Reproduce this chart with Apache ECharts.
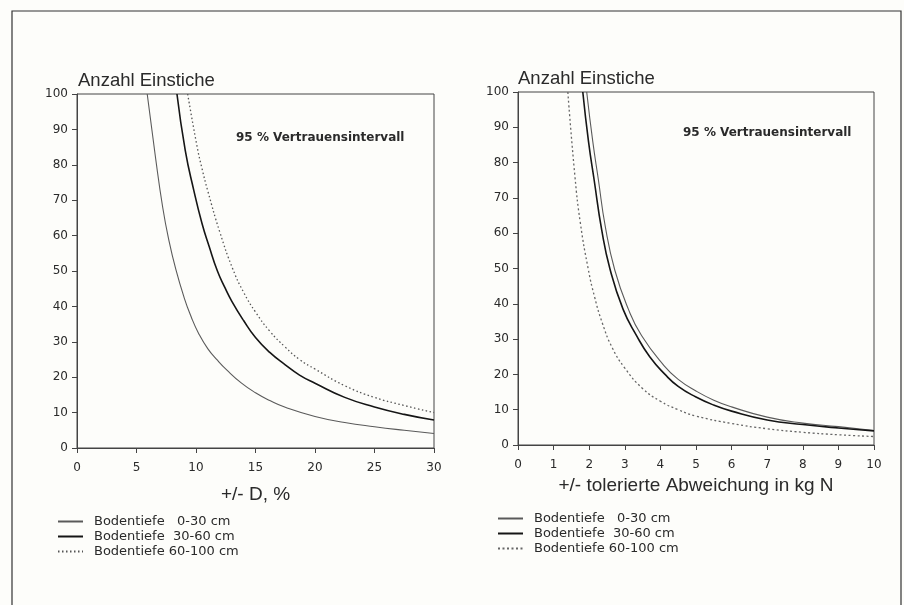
<!DOCTYPE html>
<html>
<head>
<meta charset="utf-8">
<script src="https://cdn.jsdelivr.net/npm/echarts@6/dist/echarts.min.js"></script>
<style>
  html, body { margin: 0; padding: 0; background: #fdfdfa; }
  #chart { width: 904px; height: 605px; }
</style>
</head>
<body>
<div id="chart"></div>
<script>
// Werte (x, Anzahl Einstiche)
// links: +/- D, %
var leftTiefe0_30 = [[5.9,100],[6.6,82],[7.2,68],[7.7,59],[8.3,50.5],[9,42.5],[9.6,37],[10.2,32.5],[11,28],[11.8,24.8],[12.6,22],[13.8,18.4],[15,15.6],[16.2,13.4],[17.5,11.5],[20,8.9],[22.5,7.2],[25,6],[27.5,5],[30,4.1]];
var leftTiefe30_60 = [[8.4,100],[9.1,84],[9.8,73],[10.5,63.5],[11.1,57],[11.8,50],[12.4,45.5],[13,41.5],[14,36],[15,31.2],[16.2,27],[17.5,23.5],[18.7,20.6],[20,18.3],[22.5,14.3],[25,11.6],[27.5,9.5],[30,7.9]];
var leftTiefe60_100 = [[9.3,100],[10.1,85],[10.5,79],[11,72.5],[12,61],[13.1,50.5],[14,44],[15,38.4],[16.2,33],[17.5,28.5],[18.7,25],[20,22.3],[22.5,17.6],[25,14.3],[27.5,12],[30,10]];
// rechts: +/- tolerierte Abweichung in kg N
var rightTiefe0_30 = [[1.93,100],[2.1,86],[2.26,75],[2.45,62],[2.72,49.5],[3.1,38.5],[3.47,31],[4.1,22.5],[4.5,18.6],[5,15.3],[5.5,12.7],[6,10.8],[7,7.9],[8,6.2],[9,5.2],[10,4.1]];
var rightTiefe30_60 = [[1.82,100],[1.98,86],[2.14,75],[2.35,61],[2.58,50],[2.95,38.5],[3.33,31],[3.7,25],[4.13,20],[4.5,16.6],[5,13.6],[5.5,11.3],[6,9.6],[7,7.1],[8,5.8],[9,4.8],[10,4]];
var rightTiefe60_100 = [[1.4,100],[1.6,76],[1.75,63],[1.97,50],[2.15,42],[2.37,34.5],[2.65,27.5],[3,21.8],[3.5,16],[4,12.4],[4.5,10],[5,8.2],[6,6.1],[7,4.6],[8,3.6],[9,2.9],[10,2.4]];

var legendNames = ['Bodentiefe   0-30 cm', 'Bodentiefe  30-60 cm', 'Bodentiefe 60-100 cm'];
var rightNames = ['rechts 0-30', 'rechts 30-60', 'rechts 60-100'];
var yTitle = 'Anzahl Einstiche';
var noteText = '95 % Vertrauensintervall';

var chart = echarts.init(document.getElementById('chart'));

var font = 'Liberation Sans, Arial, sans-serif';
var wide = 'DejaVu Sans, sans-serif';
var ink = '#2a2a2a';

function axisY(gridIndex) {
    return {
        type: 'value', gridIndex: gridIndex, min: 0, max: 100, interval: 10,
        axisLine: { show: true, lineStyle: { color: '#444', width: 1 } },
        axisTick: { show: true, length: 5, lineStyle: { color: '#444' } },
        axisLabel: { color: ink, fontSize: 12, fontFamily: wide, margin: 9 },
        splitLine: { show: false }
    };
}

function axisX(gridIndex, max, interval, name, gap) {
    return {
        type: 'value', gridIndex: gridIndex, min: 0, max: max, interval: interval,
        name: name, nameLocation: 'middle', nameGap: gap,
        nameTextStyle: { color: ink, fontSize: 19, fontFamily: font },
        axisLine: { show: true, lineStyle: { color: '#444', width: 1 } },
        axisTick: { show: true, length: 5, lineStyle: { color: '#444' } },
        axisLabel: { color: ink, fontSize: 12, fontFamily: wide, margin: 14 },
        splitLine: { show: false }
    };
}

function line(name, data, gi, color, width, type) {
    return {
        name: name, type: 'line', xAxisIndex: gi, yAxisIndex: gi,
        data: data, smooth: 0.5,
        showSymbol: false, symbol: 'none', silent: true,
        lineStyle: { color: color, width: width, type: type },
        itemStyle: { color: color }
    };
}

function legendAt(left, top, names) {
    return {
        orient: 'vertical', left: left, top: top, padding: 0,
        data: names, itemWidth: 25, itemHeight: 10, itemGap: 2,
        selectedMode: false,
        itemStyle: { opacity: 0 },
        formatter: function (n) {
            var i = names.indexOf(n);
            return legendNames[i];
        },
        textStyle: { color: ink, fontSize: 13, fontFamily: wide, padding: [0, 0, 0, 6] }
    };
}

var option = {
    backgroundColor: '#fdfdfa',
    animation: false,
    grid: [
        { left: 77, top: 94, width: 357, height: 354, show: true, borderColor: '#444', borderWidth: 1, backgroundColor: 'transparent' },
        { left: 518, top: 92, width: 356, height: 353, show: true, borderColor: '#444', borderWidth: 1, backgroundColor: 'transparent' }
    ],
    xAxis: [
        axisX(0, 30, 5, '+/- D, %', 37),
        axisX(1, 10, 1, '+/- tolerierte Abweichung in kg N', 28)
    ],
    yAxis: [axisY(0), axisY(1)],
    legend: [
        legendAt(57, 515, legendNames),
        legendAt(497, 512, rightNames)
    ],
    graphic: [
        { type: 'rect', shape: { x: 12, y: 11, width: 889, height: 610 }, style: { fill: 'none', stroke: '#333', lineWidth: 1.2 }, silent: true },
        { type: 'text', left: 78, top: 71, style: { text: yTitle, fill: ink, font: '18.5px ' + font } },
        { type: 'text', left: 518, top: 69, style: { text: yTitle, fill: ink, font: '18.5px ' + font } },
        { type: 'text', left: 236, top: 132, style: { text: noteText, fill: ink, font: 'bold 12px ' + wide } },
        { type: 'text', left: 683, top: 127, style: { text: noteText, fill: ink, font: 'bold 12px ' + wide } }
    ],
    series: [
        line(legendNames[0], leftTiefe0_30, 0, '#5a5a5a', 1.1, 'solid'),
        line(legendNames[1], leftTiefe30_60, 0, '#151515', 1.6, 'solid'),
        line(legendNames[2], leftTiefe60_100, 0, '#555', 1.3, [1.5, 2.5]),
        line(rightNames[0], rightTiefe0_30, 1, '#5a5a5a', 1.1, 'solid'),
        line(rightNames[1], rightTiefe30_60, 1, '#151515', 1.6, 'solid'),
        line(rightNames[2], rightTiefe60_100, 1, '#666', 1.3, [2, 2.5])
    ]
};

chart.setOption(option);
</script>
</body>
</html>
